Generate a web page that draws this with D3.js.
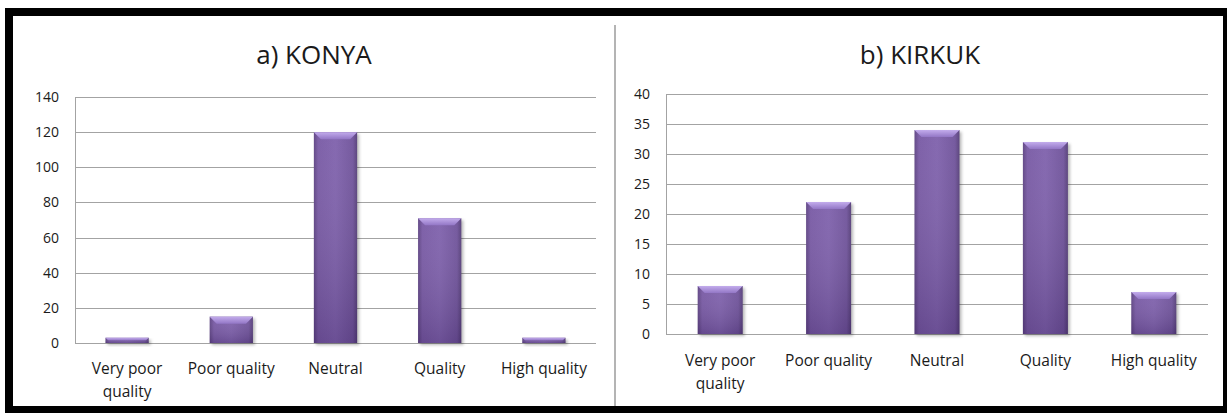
<!DOCTYPE html>
<html>
<head>
<meta charset="utf-8">
<script src="https://cdn.jsdelivr.net/npm/d3@7"></script>
<style>
  html, body { margin: 0; padding: 0; background: #fff; }
  svg { display: block; }
  text { font-family: "Open Sans", Lato, sans-serif; fill: #1a1a1a; }
</style>
</head>
<body>
<div id="chart"></div>
<script>
// categories shared by both panels
const categories = ["Very poor quality", "Poor quality", "Neutral", "Quality", "High quality"];
// wrapped tick labels
const tickLines = {
  "Very poor quality": ["Very poor", "quality"],
  "Poor quality": ["Poor quality"],
  "Neutral": ["Neutral"],
  "Quality": ["Quality"],
  "High quality": ["High quality"]
};

const konyaValues = [3, 15, 120, 71, 3];
const konyaTicks = [0, 20, 40, 60, 80, 100, 120, 140];

const kirkukValues = [8, 22, 34, 32, 7];
const kirkukTicks = [0, 5, 10, 15, 20, 25, 30, 35, 40];

const width = 1227;
const height = 413;

const svg = d3.select("#chart").append("svg")
  .attr("width", width)
  .attr("height", height);

const defs = svg.append("defs");

// bar body: darker edges, lighter middle
const gH = defs.append("linearGradient").attr("id", "barH").attr("x1", 0).attr("x2", 1).attr("y1", 0).attr("y2", 0);
[["0%", "#5a3f80"], ["10%", "#7657a3"], ["50%", "#7d5fab"], ["90%", "#6d5099"], ["100%", "#523a76"]]
  .forEach(([o, c]) => gH.append("stop").attr("offset", o).attr("stop-color", c));

// a bit darker towards the bottom
const gV = defs.append("linearGradient").attr("id", "barV").attr("x1", 0).attr("x2", 0).attr("y1", 0).attr("y2", 1);
gV.append("stop").attr("offset", "0%").attr("stop-color", "#fff").attr("stop-opacity", 0.06);
gV.append("stop").attr("offset", "100%").attr("stop-color", "#2a1745").attr("stop-opacity", 0.22);

// top bevel
const gT = defs.append("linearGradient").attr("id", "barTop").attr("x1", 0).attr("x2", 0).attr("y1", 0).attr("y2", 1);
gT.append("stop").attr("offset", "0%").attr("stop-color", "#c3acec");
gT.append("stop").attr("offset", "100%").attr("stop-color", "#9377c6");

const blur = defs.append("filter").attr("id", "shadow").attr("x", "-20%").attr("y", "-20%").attr("width", "140%").attr("height", "140%");
blur.append("feGaussianBlur").attr("stdDeviation", 1.5);

// black frame
svg.append("rect").attr("x", 5).attr("y", 8).attr("width", width - 5).attr("height", height - 8).attr("fill", "#000");
svg.append("rect").attr("x", 13).attr("y", 16).attr("width", 1210).attr("height", 390).attr("fill", "#fff");

// divider between the two panels
svg.append("line")
  .attr("x1", 615).attr("x2", 615).attr("y1", 25).attr("y2", 406)
  .attr("stroke", "#b4b4b4").attr("stroke-width", 2);

function drawPanel(opts) {
  const g = svg.append("g");

  const x = d3.scaleBand()
    .domain(categories)
    .range([opts.left, opts.right])
    .paddingInner(0.585)
    .paddingOuter(0.2925);

  const y = d3.scaleLinear()
    .domain([0, d3.max(opts.ticks)])
    .range([opts.bottom, opts.top]);

  // title
  g.append("text")
    .attr("x", opts.titleX)
    .attr("y", opts.titleY)
    .attr("text-anchor", "middle")
    .style("font-size", "26px")
    .text(opts.title);

  // gridlines
  g.append("g")
    .selectAll("line")
    .data(opts.ticks)
    .join("line")
    .attr("x1", opts.left)
    .attr("x2", opts.right)
    .attr("y1", (d) => Math.round(y(d)) + 0.5)
    .attr("y2", (d) => Math.round(y(d)) + 0.5)
    .attr("stroke", "#a3a3a3");

  // vertical axis line
  g.append("line")
    .attr("x1", opts.left + 0.5).attr("x2", opts.left + 0.5)
    .attr("y1", Math.round(y(d3.max(opts.ticks))))
    .attr("y2", Math.round(y(0)) + 1)
    .attr("stroke", "#a3a3a3");

  // y tick labels
  const yAxis = d3.axisLeft(y).tickValues(opts.ticks).tickSize(0).tickPadding(opts.tickPad);
  const ya = g.append("g")
    .attr("transform", `translate(${opts.left},0)`)
    .call(yAxis);
  ya.select(".domain").remove();
  ya.selectAll("text")
    .style("font-family", "'Open Sans', Lato, sans-serif")
    .style("font-size", "14px")
    .attr("fill", "#1a1a1a");

  // bars
  const data = categories.map((c, i) => ({ cat: c, value: opts.values[i] }));
  const bars = g.append("g").selectAll("g").data(data).join("g");

  bars.append("rect")
    .attr("x", (d) => x(d.cat) + 2)
    .attr("y", (d) => y(d.value) + 2)
    .attr("width", x.bandwidth())
    .attr("height", (d) => y(0) - y(d.value))
    .attr("fill", "rgba(0,0,0,0.28)")
    .attr("filter", "url(#shadow)");

  bars.append("rect")
    .attr("x", (d) => x(d.cat))
    .attr("y", (d) => y(d.value))
    .attr("width", x.bandwidth())
    .attr("height", (d) => y(0) - y(d.value))
    .attr("fill", "url(#barH)");

  bars.append("rect")
    .attr("x", (d) => x(d.cat))
    .attr("y", (d) => y(d.value))
    .attr("width", x.bandwidth())
    .attr("height", (d) => y(0) - y(d.value))
    .attr("fill", "url(#barV)");

  bars.append("polygon")
    .attr("points", (d) => {
      const x0 = x(d.cat), x1 = x0 + x.bandwidth();
      const t = y(d.value);
      const b = Math.min(7, (y(0) - t) / 2);
      return [[x0, t], [x1, t], [x1 - b, t + b], [x0 + b, t + b]].join(" ");
    })
    .attr("fill", "url(#barTop)");

  // x labels
  const xl = g.append("g").selectAll("text").data(categories).join("text")
    .attr("x", (d) => x(d) + x.bandwidth() / 2)
    .attr("y", opts.labelY)
    .attr("text-anchor", "middle")
    .style("font-size", "15.5px");
  xl.selectAll("tspan")
    .data((d) => tickLines[d])
    .join("tspan")
    .attr("x", function () { return this.parentNode.getAttribute("x"); })
    .attr("dy", (d, i) => (i === 0 ? 0 : 23))
    .text((d) => d);
}

drawPanel({
  title: "a) KONYA",
  titleX: 314, titleY: 64,
  values: konyaValues, ticks: konyaTicks,
  left: 75, right: 596, top: 97, bottom: 343,
  tickPad: 16, labelY: 374
});

drawPanel({
  title: "b) KIRKUK",
  titleX: 920, titleY: 64,
  values: kirkukValues, ticks: kirkukTicks,
  left: 666, right: 1208, top: 94, bottom: 334,
  tickPad: 16, labelY: 366
});
</script>
</body>
</html>
